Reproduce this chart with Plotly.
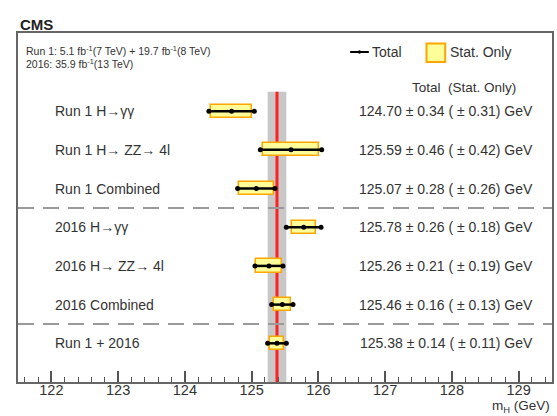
import plotly.graph_objects as go

# ---- data ----
labels = ["Run 1 H→γγ", "Run 1 H→ ZZ→ 4l", "Run 1 Combined",
          "2016 H→γγ", "2016 H→ ZZ→ 4l", "2016 Combined", "Run 1 + 2016"]
mass = [124.70, 125.59, 125.07, 125.78, 125.26, 125.46, 125.38]
total_err = [0.34, 0.46, 0.28, 0.26, 0.21, 0.16, 0.14]
stat_err = [0.31, 0.42, 0.26, 0.18, 0.19, 0.13, 0.11]
rows = [7, 6, 5, 4, 3, 2, 1]
separators = [4.5, 1.5]
xticks = [122, 123, 124, 125, 126, 127, 128, 129]
combined_mass = 125.38
combined_err = 0.14

FONT = "Liberation Sans, Arial, Helvetica, sans-serif"
TXT = "#333333"

fig = go.Figure()

# stat-only boxes
fig.add_trace(go.Bar(
    orientation="h",
    y=rows,
    x=[2 * s for s in stat_err],
    base=[m - s for m, s in zip(mass, stat_err)],
    width=0.34,
    marker=dict(color="#ffff99", line=dict(color="#ffa500", width=1.5)),
    showlegend=False, hoverinfo="skip",
))

# total error bars
for m, t, r in zip(mass, total_err, rows):
    fig.add_trace(go.Scatter(
        x=[m - t, m, m + t], y=[r, r, r],
        mode="lines+markers",
        line=dict(color="black", width=2.5),
        marker=dict(color="black", size=5),
        showlegend=False, hoverinfo="skip",
    ))

shapes = []
# combined band and central line
shapes.append(dict(type="rect", xref="x", yref="y",
                   x0=combined_mass - combined_err, x1=combined_mass + combined_err,
                   y0=0, y1=7.5, fillcolor="#c8c8c8", line=dict(width=0), layer="below"))
shapes.append(dict(type="line", xref="x", yref="y",
                   x0=combined_mass, x1=combined_mass, y0=0, y1=7.5,
                   line=dict(color="#ff2020", width=3), layer="below"))
# separators
for s in separators:
    shapes.append(dict(type="line", xref="paper", yref="y", x0=0, x1=1, y0=s, y1=s,
                       line=dict(color="#9a9a9a", width=2, dash="16px,9px")))
# legend symbols
shapes.append(dict(type="line", xref="paper", yref="paper", x0=0.622, x1=0.657,
                   y0=0.9456, y1=0.9456, line=dict(color="black", width=2)))
shapes.append(dict(type="circle", xref="paper", yref="paper", x0=0.6365, x1=0.6425,
                   y0=0.9406, y1=0.9506, fillcolor="black", line=dict(width=0)))
shapes.append(dict(type="rect", xref="paper", yref="paper", x0=0.765, x1=0.800,
                   y0=0.917, y1=0.970, fillcolor="#ffff99",
                   line=dict(color="#ffa500", width=2)))

annotations = []
annotations.append(dict(text="<b>CMS</b>", xref="paper", yref="paper", x=0, y=1.025,
                        xanchor="left", yanchor="middle", showarrow=False,
                        font=dict(family=FONT, size=15, color="#222")))
annotations.append(dict(text="Run 1: 5.1 fb<sup>-1</sup>(7 TeV) + 19.7 fb<sup>-1</sup>(8 TeV)",
                        xref="paper", yref="paper", x=0.012, y=0.950,
                        xanchor="left", yanchor="middle", showarrow=False,
                        font=dict(family=FONT, size=10.5, color=TXT)))
annotations.append(dict(text="2016: 35.9 fb<sup>-1</sup>(13 TeV)",
                        xref="paper", yref="paper", x=0.012, y=0.912,
                        xanchor="left", yanchor="middle", showarrow=False,
                        font=dict(family=FONT, size=10.5, color=TXT)))
# legend texts
annotations.append(dict(text="Total", xref="paper", yref="paper", x=0.659, y=0.9456,
                        xanchor="left", yanchor="middle", showarrow=False,
                        font=dict(family=FONT, size=14, color=TXT)))
annotations.append(dict(text="Stat. Only", xref="paper", yref="paper", x=0.805, y=0.9456,
                        xanchor="left", yanchor="middle", showarrow=False,
                        font=dict(family=FONT, size=14, color=TXT)))
# header
annotations.append(dict(text="Total  (Stat. Only)", xref="paper", yref="y", x=0.937, y=7.6,
                        xanchor="right", yanchor="middle", showarrow=False,
                        font=dict(family=FONT, size=13.5, color=TXT)))
# row labels and values
for lab, m, t, s, r in zip(labels, mass, total_err, stat_err, rows):
    annotations.append(dict(text=lab, xref="paper", yref="y", x=0.065, y=r,
                            xanchor="left", yanchor="middle", showarrow=False,
                            font=dict(family=FONT, size=14, color=TXT)))
    annotations.append(dict(text=f"{m:.2f} ± {t:.2f} ( ± {s:.2f}) GeV",
                            xref="paper", yref="y", x=0.968, y=r,
                            xanchor="right", yanchor="middle", showarrow=False,
                            font=dict(family=FONT, size=14, color=TXT)))
# x title
annotations.append(dict(text="m<sub>H</sub> (GeV)", xref="paper", yref="paper", x=1.0, y=-0.1,
                        xanchor="right", yanchor="bottom", showarrow=False,
                        font=dict(family=FONT, size=13.5, color=TXT)))

fig.update_layout(
    width=557, height=416,
    margin=dict(l=18, r=3, t=33, b=34),
    paper_bgcolor="white", plot_bgcolor="white",
    shapes=shapes, annotations=annotations,
    showlegend=False, bargap=0,
)
fig.update_xaxes(range=[121.5, 129.5], tickvals=xticks, ticktext=[str(v) for v in xticks],
                 ticks="inside", ticklen=11, tickwidth=1.5, tickcolor="#555",
                 ticklabelstandoff=-6,
                 minor=dict(ticks="inside", dtick=0.2, ticklen=5, tickwidth=1.2, tickcolor="#555"),
                 showline=True, mirror=True, linecolor="#666", linewidth=1.5,
                 showgrid=False, zeroline=False,
                 tickfont=dict(family=FONT, size=14.5, color=TXT))
fig.update_yaxes(range=[0, 9.02], showticklabels=False, ticks="",
                 showline=True, mirror=True, linecolor="#666", linewidth=1.5,
                 showgrid=False, zeroline=False)

fig.write_html("out.html")
